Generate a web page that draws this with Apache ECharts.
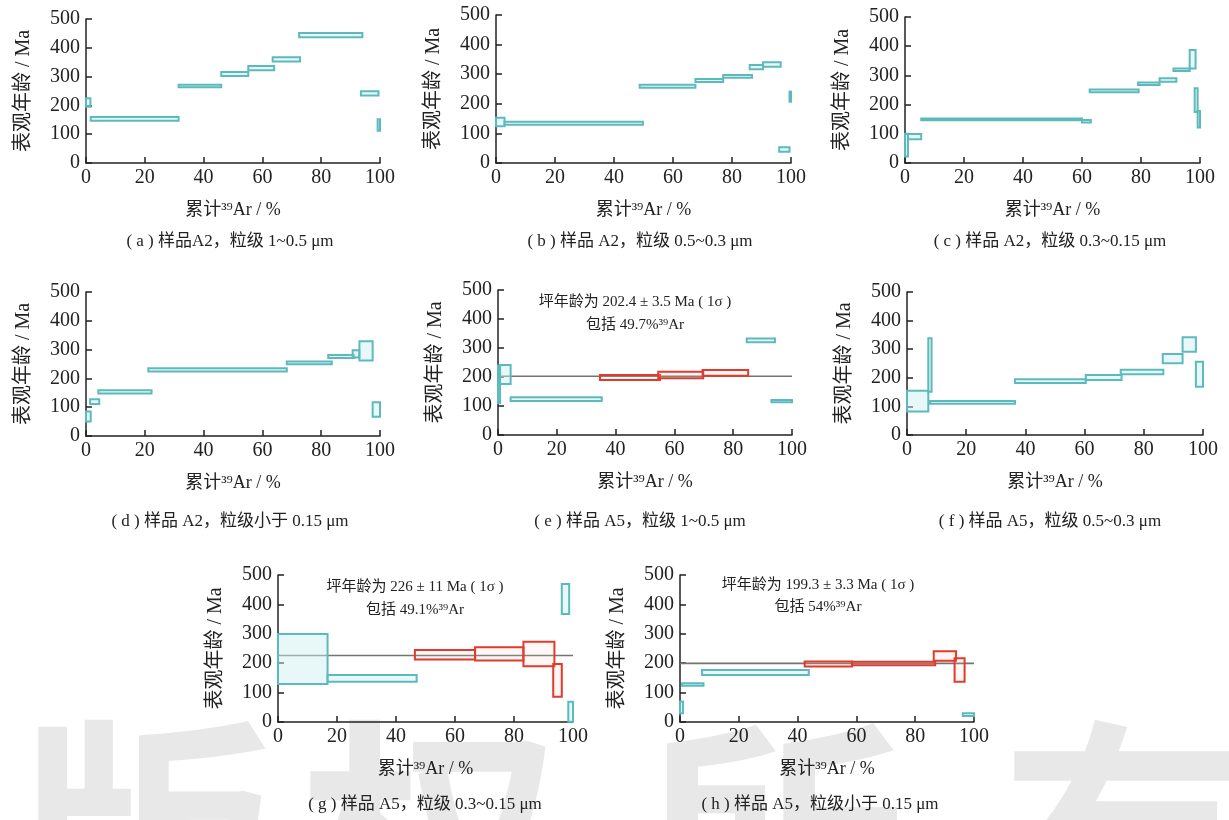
<!DOCTYPE html>
<html>
<head>
<meta charset="utf-8">
<script src="https://cdn.jsdelivr.net/npm/echarts@6/dist/echarts.min.js"></script>
<style>html,body{margin:0;padding:0;background:#fff;}#c{width:1229px;height:820px;}</style>
</head>
<body>
<div id="c"></div>
<script>
// ---- data: steps are [cum39Ar start %, cum39Ar end %, age low Ma, age high Ma]
var xTicks = [0, 20, 40, 60, 80, 100];
var yTicks = [0, 100, 200, 300, 400, 500];

var stepsA = [[0,1.5,195,225],[1.6,31.5,147,160],[31.5,46,263,272],[46,55.2,302,316],[55.2,64,322,337],[63.5,72.8,352,367],[72.5,94,437,451],[93.5,99.5,234,249],[99.2,100,112,152]];
var stepsB = [[0,2.9,124,153],[2.9,49.8,129,139],[48.7,67.6,254,264],[67.6,77,274,284],[77,86.8,288,297],[86,90.5,317,331],[90.5,96.5,325,340],[96,99.5,38,53],[99.5,100,207,241]];
var stepsC = [[0,1,22,100],[1,5.5,81,99],[5.5,60,146,152],[60,63,139,147],[62.6,79.2,242,252],[79,86.3,267,276],[86.3,92,278,290],[91,96.5,315,324],[96.5,98.5,324,387],[98.2,99.2,175,256],[99.2,100,122,178]];
var stepsD = [[0,1.6,50,85],[1.4,4.5,111,128],[4.2,22.3,148,159],[21.2,68.3,224,235],[68.3,83.6,249,259],[82.4,91.2,271,281],[90.7,93,273,298],[93,97.5,262,329],[97.5,100,67,117]];
var stepsE = [[0,0.7,110,240],[0.7,4.3,176,241],[4.3,35.3,117,130],[84.6,94.2,320,333],[93,100,113,121]];
var plateauStepsE = [[34.7,55.1,190,207],[54.5,69.8,196,218],[69.6,85.1,204,224]];
var stepsF = [[0,7.2,82,155],[7.2,8.3,151,338],[7.8,36.5,109,119],[36.5,60.4,182,195],[60.4,72.5,192,210],[72.2,86.6,212,228],[86.4,93.1,251,283],[93.1,97.6,291,342],[97.6,100,169,256]];
var stepsG = [[0,16.8,129,299],[16.8,47,137,160],[96.2,98.7,367,469],[98.4,100,1,69]];
var plateauStepsG = [[46.4,66.8,213,245],[66.8,83.2,209,254],[83.2,93.7,190,273],[93.3,96.2,86,197]];
var stepsH = [[0,1,30,70],[0.7,8,123,132],[7.5,43.8,160,177],[96.2,100,20,30]];
var plateauStepsH = [[42.4,58.5,189,206],[58.5,86.8,193,205],[86.3,93.9,208,241],[93.4,96.8,137,217]];

var plateauAgeE = 202.4, plateauAgeG = 226, plateauAgeH = 199.3;

var captions = ['( a ) 样品A2，粒级 1~0.5 μm','( b ) 样品 A2，粒级 0.5~0.3 μm','( c ) 样品 A2，粒级 0.3~0.15 μm',
                '( d ) 样品 A2，粒级小于 0.15 μm','( e ) 样品 A5，粒级 1~0.5 μm','( f ) 样品 A5，粒级 0.5~0.3 μm',
                '( g ) 样品 A5，粒级 0.3~0.15 μm','( h ) 样品 A5，粒级小于 0.15 μm'];
var annotE = ['坪年龄为 202.4 ± 3.5 Ma ( 1σ )','包括 49.7%³⁹Ar'];
var annotG = ['坪年龄为 226 ± 11 Ma ( 1σ )','包括 49.1%³⁹Ar'];
var annotH = ['坪年龄为 199.3 ± 3.3 Ma ( 1σ )','包括 54%³⁹Ar'];
var xName = '累计³⁹Ar / %';
var yName = '表观年龄 / Ma';

// ---- layout
var FONT = '"Liberation Serif", "Noto Sans CJK SC", serif';
var grids = [
  {left:86, top:19, width:294, height:144},
  {left:496, top:15, width:295, height:148},
  {left:905, top:17, width:295, height:146},
  {left:86, top:292, width:294, height:144},
  {left:498, top:290, width:294, height:145},
  {left:907, top:292, width:296, height:143},
  {left:278, top:575, width:295, height:147},
  {left:680, top:575, width:294, height:147}
];
var tealStroke = '#5cbabd', tealFill = 'rgba(205,240,240,0.45)';
var redStroke = '#e23a2c', redFill = 'rgba(250,200,185,0.15)';

function rectRender(stroke, fill, lw) {
  return function (params, api) {
    var p0 = api.coord([api.value(0), api.value(3)]);
    var p1 = api.coord([api.value(1), api.value(2)]);
    return {type:'rect', shape:{x:p0[0], y:p0[1], width:Math.max(p1[0]-p0[0],1), height:Math.max(p1[1]-p0[1],1)},
            style:{stroke:stroke, fill:fill, lineWidth:lw}};
  };
}

var xAxes = [], yAxes = [], series = [], gridOpts = [];
grids.forEach(function (g, i) {
  gridOpts.push({left:g.left, top:g.top, width:g.width, height:g.height, containLabel:false});
  xAxes.push({gridIndex:i, type:'value', min:xTicks[0], max:xTicks[xTicks.length-1], interval:xTicks[1]-xTicks[0],
    name:xName, nameLocation:'middle', nameGap:38,
    nameTextStyle:{fontFamily:FONT, fontSize:18, color:'#222'},
    axisLine:{lineStyle:{color:'#222', width:1.5}}, axisTick:{inside:true, length:6, lineStyle:{color:'#222', width:1.5}},
    axisLabel:{fontFamily:FONT, fontSize:20, color:'#222', margin:5}, splitLine:{show:false}});
  yAxes.push({gridIndex:i, type:'value', min:yTicks[0], max:yTicks[yTicks.length-1], interval:yTicks[1]-yTicks[0],
    name:yName, nameLocation:'middle', nameGap:52, nameRotate:90,
    nameTextStyle:{fontFamily:FONT, fontSize:20, color:'#222'},
    axisLine:{show:true, lineStyle:{color:'#222', width:1.5}}, axisTick:{show:true, inside:true, length:6, lineStyle:{color:'#222', width:1.5}},
    axisLabel:{fontFamily:FONT, fontSize:20, color:'#222', margin:6}, splitLine:{show:false}});
});

function addSteps(i, data, stroke, fill, lw) {
  series.push({type:'custom', xAxisIndex:i, yAxisIndex:i, renderItem:rectRender(stroke, fill, lw),
    encode:{x:[0,1], y:[2,3]}, data:data, silent:true, z:3});
}
function addPlateau(i, age) {
  series.push({type:'line', xAxisIndex:i, yAxisIndex:i, data:[[xTicks[0], age],[xTicks[xTicks.length-1], age]],
    symbol:'none', lineStyle:{color:'#6f776f', width:1.6}, silent:true, z:2});
}
addSteps(0, stepsA, tealStroke, tealFill, 2);
addSteps(1, stepsB, tealStroke, tealFill, 2);
addSteps(2, stepsC, tealStroke, tealFill, 2);
addSteps(3, stepsD, tealStroke, tealFill, 2);
addPlateau(4, plateauAgeE);
addSteps(4, stepsE, tealStroke, tealFill, 2);
addSteps(4, plateauStepsE, redStroke, redFill, 2);
addSteps(5, stepsF, tealStroke, tealFill, 2);
addPlateau(6, plateauAgeG);
addSteps(6, stepsG, tealStroke, tealFill, 2);
addSteps(6, plateauStepsG, redStroke, redFill, 2);
addPlateau(7, plateauAgeH);
addSteps(7, stepsH, tealStroke, tealFill, 2);
addSteps(7, plateauStepsH, redStroke, redFill, 2);

// ---- graphics: watermark, captions, annotations
var graphics = [];
var wm = ['版','权','所','有'], wmX = [145, 430, 775, 1130];
wm.forEach(function (ch, k) {
  graphics.push({type:'text', left:wmX[k]-130, top:712, z:-10, silent:true,
    style:{text:ch, fontSize:260, fontWeight:'bold', fontFamily:'"Noto Sans CJK SC"', fill:'#e8e8e8'}});
});
var capPos = [[230,242],[640,242],[1050,242],[230,522],[640,522],[1050,522],[425,805],[820,805]];
captions.forEach(function (t, k) {
  graphics.push({type:'text', x:capPos[k][0], y:capPos[k][1], z:10,
    style:{text:t, fontSize:17, fontFamily:FONT, fill:'#222', align:'center', verticalAlign:'middle'}});
});
function addAnnot(lines, cx, y1, y2) {
  graphics.push({type:'text', x:cx, y:y1, z:10, style:{text:lines[0], fontSize:15, fontFamily:FONT, fill:'#222', align:'center', verticalAlign:'middle'}});
  graphics.push({type:'text', x:cx, y:y2, z:10, style:{text:lines[1], fontSize:15, fontFamily:FONT, fill:'#222', align:'center', verticalAlign:'middle'}});
}
addAnnot(annotE, 635, 302, 325);
addAnnot(annotG, 415, 587, 610);
addAnnot(annotH, 818, 585, 607);

var chart = echarts.init(document.getElementById('c'), null, {renderer:'canvas'});
chart.setOption({
  backgroundColor:'#fff', animation:false,
  grid:gridOpts, xAxis:xAxes, yAxis:yAxes, series:series, graphic:graphics
});
</script>
</body>
</html>
